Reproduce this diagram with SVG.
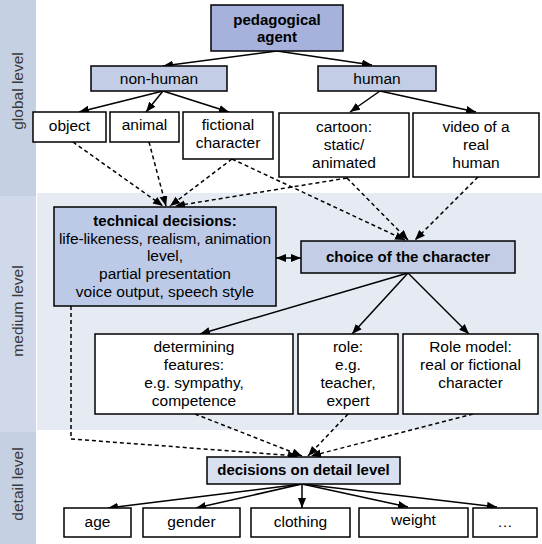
<svg xmlns="http://www.w3.org/2000/svg" width="542" height="544" viewBox="0 0 542 544">
<defs>
<style>
text{font-family:"Liberation Sans",Arial,sans-serif;font-size:15.5px;fill:#000;text-anchor:middle}
.b{font-weight:bold;font-size:15px}
.lv{fill:#3a3a3a;font-size:15.5px}
.box{stroke:#000;stroke-width:1.5}
.w{fill:#fff}
.m{fill:#c3cee6}
.d{fill:#a6b2dc}
.t{fill:#bccae7}
.l{fill:#d9e1f1}
.s{stroke:#000;stroke-width:1.5;fill:none;marker-end:url(#ah)}
.ds{stroke:#000;stroke-width:1.5;fill:none;stroke-dasharray:4 3;marker-end:url(#ah)}
</style>
<marker id="ah" markerUnits="userSpaceOnUse" markerWidth="11" markerHeight="9" refX="10" refY="4" orient="auto-start-reverse">
<path d="M0,0 L10,4 L0,8 z" fill="#000"/>
</marker>
</defs>
<rect x="0" y="0" width="542" height="544" fill="#fff"/>
<g id="bands">
<rect x="37" y="193" width="505" height="237" fill="#e5eaf3"/>
<rect x="0" y="0" width="36" height="196" fill="#c6d0e3"/>
<rect x="0" y="196" width="36" height="236" fill="#d0d9ea"/>
<rect x="0" y="432" width="36" height="112" fill="#c6d0e3"/>
<text class="lv" transform="translate(23,91) rotate(-90)">global level</text>
<text class="lv" transform="translate(23,311) rotate(-90)">medium level</text>
<text class="lv" transform="translate(23,484) rotate(-90)">detail level</text>
</g>
<g id="connectors">
<path class="s" d="M277,51 L163,66"/>
<path class="s" d="M277,51 L372,65"/>
<path class="s" d="M163,91 L79,112"/>
<path class="s" d="M163,91 L146,112"/>
<path class="s" d="M163,91 L229,112"/>
<path class="s" d="M380,91 L350,112"/>
<path class="s" d="M380,91 L476,112"/>
<path class="ds" d="M73,142 L163,206"/>
<path class="ds" d="M149,142 L166,206"/>
<path class="ds" d="M232,159 L170,206"/>
<path class="ds" d="M347,178 L175,206"/>
<path class="ds" d="M232,159 L405,240"/>
<path class="ds" d="M347,178 L408,240"/>
<path class="ds" d="M478,177 L415,240"/>
<path class="s" style="marker-start:url(#ah)" d="M276,258 L301,258"/>
<path class="s" d="M408,273 L200,334"/>
<path class="s" d="M408,273 L352,334"/>
<path class="s" d="M408,273 L469,334"/>
<path class="ds" d="M71,306 L71,439 L298,456"/>
<path class="ds" d="M195,414 L302,456"/>
<path class="ds" d="M348,414 L308,456"/>
<path class="ds" d="M473,414 L311,456"/>
<path class="s" d="M302,484 L108,508"/>
<path class="s" d="M302,484 L196,508"/>
<path class="s" d="M302,484 L302,508"/>
<path class="s" d="M302,484 L408,507"/>
<path class="s" d="M302,484 L497,507"/>
</g>
<g id="n-agent"><rect class="box d" x="211" y="5" width="132" height="46"/><text class="b" x="277" y="25">pedagogical</text><text class="b" x="277" y="42">agent</text></g>
<g id="n-nonhuman"><rect class="box m" x="91" y="66" width="136" height="25"/><text x="159" y="84">non-human</text></g>
<g id="n-human"><rect class="box m" x="318" y="66" width="118" height="25"/><text x="377" y="84">human</text></g>
<g id="n-object"><rect class="box w" x="33" y="112" width="73" height="30"/><text x="69.5" y="131">object</text></g>
<g id="n-animal"><rect class="box w" x="110" y="112" width="69" height="30"/><text x="144.5" y="130">animal</text></g>
<g id="n-fictional"><rect class="box w" x="183" y="112" width="90" height="47"/><text x="228" y="130">fictional</text><text x="228" y="148">character</text></g>
<g id="n-cartoon"><rect class="box w" x="279" y="113" width="130" height="64"/><text x="344" y="132">cartoon:</text><text x="344" y="150">static/</text><text x="344" y="168">animated</text></g>
<g id="n-video"><rect class="box w" x="413" y="113" width="126" height="64"/><text x="476" y="132">video of a</text><text x="476" y="150">real</text><text x="476" y="168">human</text></g>
<g id="n-technical"><rect class="box t" x="54" y="207" width="222" height="99"/><text class="b" x="165" y="226">technical decisions:</text><text x="165" y="243.5" textLength="212" lengthAdjust="spacing">life-likeness, realism, animation</text><text x="165" y="261">level,</text><text x="165" y="279">partial presentation</text><text x="165" y="297">voice output, speech style</text></g>
<g id="n-choice"><rect class="box m" x="301" y="241" width="214" height="32"/><text class="b" x="408" y="262">choice of the character</text></g>
<g id="n-determining"><rect class="box w" x="95" y="334" width="198" height="80"/><text x="194" y="352">determining</text><text x="194" y="370">features:</text><text x="194" y="388">e.g. sympathy,</text><text x="194" y="406">competence</text></g>
<g id="n-role"><rect class="box w" x="298" y="334" width="100" height="80"/><text x="348" y="352">role:</text><text x="348" y="370">e.g.</text><text x="348" y="388">teacher,</text><text x="348" y="406">expert</text></g>
<g id="n-rolemodel"><rect class="box w" x="403" y="334" width="135" height="80"/><text x="470.5" y="352">Role model:</text><text x="470.5" y="370">real or fictional</text><text x="470.5" y="388">character</text></g>
<g id="n-detail"><rect class="box l" x="207" y="457" width="193" height="27"/><text class="b" x="303.5" y="475">decisions on detail level</text></g>
<g id="n-age"><rect class="box w" x="64" y="508" width="67" height="29"/><text x="97.5" y="527">age</text></g>
<g id="n-gender"><rect class="box w" x="143" y="508" width="97" height="29"/><text x="191.5" y="527">gender</text></g>
<g id="n-clothing"><rect class="box w" x="251" y="508" width="99" height="29"/><text x="300.5" y="527">clothing</text></g>
<g id="n-weight"><rect class="box w" x="359" y="508" width="109" height="29"/><text x="413.5" y="525">weight</text></g>
<g id="n-more"><rect class="box w" x="473" y="508" width="64" height="29"/><text x="505" y="527">…</text></g>
</svg>
